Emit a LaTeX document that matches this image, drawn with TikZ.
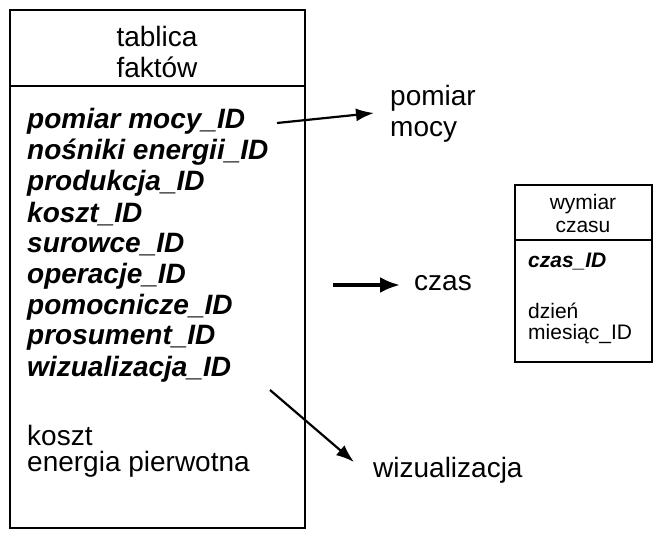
\documentclass[tikz,border=0pt]{standalone}
\usepackage{fontspec}
\setmainfont{Liberation Sans}
\usetikzlibrary{arrows.meta}
\begin{document}
\begin{tikzpicture}[x=1pt,y=-1pt,
  big/.style={font=\fontsize{28}{31}\selectfont},
  key/.style={font=\fontsize{28}{31}\selectfont\bfseries\itshape,anchor=west,inner sep=0},
  lab/.style={big,anchor=west,inner sep=0},
  sm/.style={font=\fontsize{21}{24}\selectfont,anchor=west,inner sep=0},
  arr/.style={line width=2.2pt,-{Latex[length=18pt,width=13pt]}}]
\useasboundingbox (0,0) rectangle (657,536);
\draw[line width=2.2pt] (10,10) rectangle (305,528);
\draw[line width=1.8pt] (10,86) -- (305,86);
\node[big,align=center] (t) at (157,52) {tablica\\faktów};
\foreach \t [count=\i] in {pomiar mocy\_ID,nośniki energii\_ID,produkcja\_ID,koszt\_ID,surowce\_ID,operacje\_ID,pomocnicze\_ID,prosument\_ID,wizualizacja\_ID}
  \node[key] (k\i) at (27,{121+(\i-1)*31}) {\t};
\node[lab] (m1) at (27,435) {koszt};
\node[lab] (m2) at (27,464) {energia pierwotna};
\node[lab,align=left] (pm) at (390,114) {pomiar\\mocy};
\node[lab] (cz) at (414,283) {czas};
\node[lab] (wz) at (373,470) {wizualizacja};
\coordinate (a1) at (277,123); \coordinate (a2) at (333,285); \coordinate (a3) at (270,390);
\coordinate (b1) at (374,113); \coordinate (b2) at (400,285); \coordinate (b3) at (354,462);
\draw[arr] (a1) -- (b1);
\draw[line width=3.5pt,-{Latex[length=20pt,width=16pt]}] (a2) -- (b2);
\draw[arr] (a3) -- (b3);
\draw[line width=2.2pt] (515,185) rectangle (652,362);
\draw[line width=1.4pt] (515,240) -- (652,240);
\node[font=\fontsize{21}{23}\selectfont,align=center] (w) at (583,213) {wymiar\\czasu};
\node[sm,font=\fontsize{21}{24}\selectfont\bfseries\itshape] (c) at (528,262) {czas\_ID};
\node[sm] (d) at (528,311) {dzień};
\node[sm] (ms) at (528,334) {miesiąc\_ID};
\end{tikzpicture}
\end{document}
